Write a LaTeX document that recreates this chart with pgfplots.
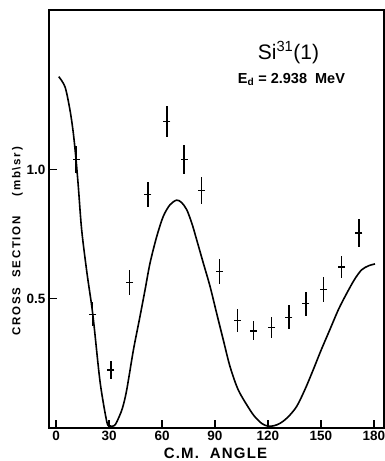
\documentclass[border=0pt]{standalone}
\usepackage{fontspec}
\setmainfont{Liberation Sans}
\usepackage{pgfplots}
\pgfplotsset{compat=1.18}
\begin{document}
\begin{tikzpicture}
\begin{axis}[at={(0,0)},anchor=south west,scale only axis,
  width=335pt,height=418pt,
  xmin=-4,xmax=185.7,ymin=0,ymax=1.618,
  xtick={0,30,...,180},
  ytick={0.5,1.0},yticklabels={0.5,1.0},
  tick pos=left,
  tick align=inside,major tick length=8pt,
  tick style={line width=1.2pt,black},
  axis line style={line width=1.3pt},
  /pgf/number format/assume math mode=true,
  tick label style={font=\fontsize{13.5}{15}\selectfont\bfseries},
  xlabel={C.M.\ \ ANGLE},
  xlabel style={at={(axis description cs:0.497,0)},anchor=center,yshift=-25pt,
    font=\fontsize{15}{17}\selectfont\bfseries\addfontfeatures{LetterSpace=8}},
  ylabel={CROSS\ \ SECTION\ \ \ \ (mb\textbackslash sr)},
  ylabel style={at={(axis description cs:-0.094,0.447)},anchor=center,
    font=\fontsize{11.5}{13}\selectfont\bfseries\addfontfeatures{LetterSpace=15}},
]
\addplot[black,line width=1.6pt,smooth,tension=0.5] coordinates {
(1.5,1.36)(5.1,1.32)(7.9,1.23)(9.8,1.14)(11.3,1.04)(12.6,0.935)(14.5,0.767)
(17.5,0.60)(20.8,0.44)(24.9,0.18)(28.7,0.025)(30.2,0.009)(31.7,0.006)(33.1,0.01)(34.5,0.025)
(37.5,0.075)(40,0.147)(43.8,0.302)(47.5,0.431)(50.4,0.535)(53.2,0.638)(57,0.741)
(60.7,0.819)(64.5,0.864)(68.3,0.882)(71,0.873)(74,0.845)(77,0.79)(79.6,0.729)
(83.4,0.638)(87.2,0.548)(90.9,0.445)(94.7,0.341)(98.5,0.238)(103.2,0.147)
(109.8,0.07)(113,0.04)(116.4,0.018)(119,0.009)(121,0.007)(123.5,0.009)
(126.8,0.018)(131,0.04)(136.2,0.083)(141,0.15)(145.6,0.225)(150,0.30)(155,0.38)
(160,0.46)(164.5,0.52)(169,0.575)(173,0.612)(177,0.628)(180.6,0.635)
};
\addplot[black,line width=1.3pt,only marks,mark=-,mark size=3.5pt,
  mark options={line width=1.3pt},
  error bars/.cd,y dir=both,y explicit,error mark=none,
  error bar style={line width=1.4pt,black}]
  table[x=x,y=y,y error=e] {
x y e
11.3 1.039 0.052
20.8 0.44 0.047
31 0.225 0.035
41.6 0.563 0.048
52 0.903 0.048
62.8 1.186 0.06
72.5 1.04 0.055
82.4 0.92 0.052
92.4 0.606 0.048
102.6 0.416 0.045
111.7 0.376 0.037
122 0.389 0.04
131.9 0.429 0.047
141.5 0.481 0.047
151.5 0.535 0.049
161.7 0.623 0.044
171.5 0.755 0.055
};
\node[font=\fontsize{21}{24}\selectfont] at (axis cs:131.6,1.453) {Si\textsuperscript{31}(1)};
\node[font=\fontsize{14.5}{16}\selectfont\bfseries] at (axis cs:133.3,1.349) {E\textsubscript{d} = 2.938\ \ MeV};
\end{axis}
\pgfresetboundingbox
\path (-49pt,-33pt) rectangle (336pt,428pt);
\end{tikzpicture}
\end{document}
